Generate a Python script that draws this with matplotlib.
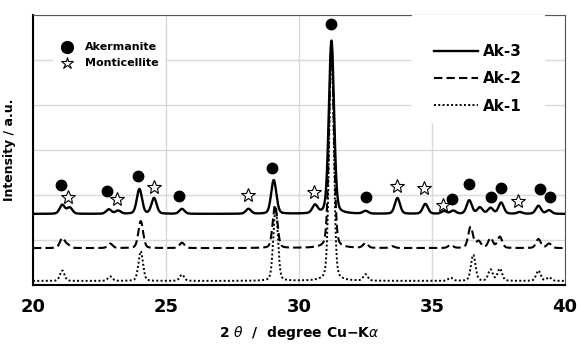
import numpy as np
import matplotlib.pyplot as plt

plt.rcParams['font.family'] = ['DejaVu Sans']

# peak lists: position (2theta), height (a.u. above baseline)
ak3_pos = [21.1, 21.38, 22.85, 23.2, 24.0, 24.55, 25.6, 28.1, 29.05, 30.6, 31.22,
           32.5, 33.7, 34.75, 35.45, 35.8, 36.4, 36.8, 37.2, 37.6, 38.3, 39.0, 39.4]
ak3_h = [0.2, 0.14, 0.1, 0.07, 0.55, 0.35, 0.11, 0.11, 0.75, 0.18, 3.85,
         0.06, 0.35, 0.22, 0.06, 0.07, 0.3, 0.14, 0.13, 0.25, 0.04, 0.18, 0.08]
ak2_pos = [21.1, 21.3, 22.9, 24.05, 25.6, 29.1, 31.22, 32.5, 33.5, 35.7,
           36.45, 36.75, 37.2, 37.55, 39.0, 39.4]
ak2_h = [0.22, 0.07, 0.1, 0.6, 0.12, 0.95, 4.55, 0.11, 0.04, 0.07,
         0.47, 0.15, 0.22, 0.25, 0.2, 0.1]
ak1_pos = [21.1, 22.9, 24.05, 25.6, 29.12, 31.22, 32.5, 35.7, 36.55, 37.2, 37.55, 39.0, 39.4]
ak1_h = [0.23, 0.1, 0.66, 0.14, 1.65, 5.3, 0.14, 0.07, 0.58, 0.25, 0.27, 0.23, 0.08]
baselines = [1.58, 0.82, 0.09]
widths = [0.23, 0.21, 0.2]

# phase markers (2theta, y)
ake_x = [21.05, 22.8, 23.95, 25.5, 29.0, 31.2, 32.5, 35.75, 36.4, 37.2, 37.6, 39.05, 39.45]
ake_y = [2.22, 2.09, 2.42, 1.98, 2.6, 5.8, 1.95, 1.91, 2.24, 1.96, 2.16, 2.13, 1.96]
mon_x = [21.3, 23.15, 24.55, 28.1, 30.55, 33.7, 34.7, 35.4, 38.25]
mon_y = [1.96, 1.91, 2.18, 2.0, 2.07, 2.2, 2.16, 1.78, 1.87]


def pattern(x, pos, h, w, base):
    y = np.full_like(x, base)
    for p, a in zip(pos, h):
        g = np.exp(-4 * np.log(2) * ((x - p) / w) ** 2)
        lo = 1 / (1 + 4 * ((x - p) / w) ** 2)
        y += a * (0.75 * g + 0.25 * lo)
    return y


x = np.linspace(20, 40, 4000)

fig = plt.figure(figsize=(5.77, 3.44), dpi=100)
ax = fig.add_axes([33 / 577, 1 - 285 / 344, 532 / 577, 270 / 344])

ax.plot(x, pattern(x, ak3_pos, ak3_h, widths[0], baselines[0]), color='black', lw=1.7, label='Ak-3')
ax.plot(x, pattern(x, ak2_pos, ak2_h, widths[1], baselines[1]), color='black', lw=1.5,
        ls=(0, (4, 2)), label='Ak-2')
ax.plot(x, pattern(x, ak1_pos, ak1_h, widths[2], baselines[2]), color='black', lw=1.4,
        ls=(0, (1, 1.2)), label='Ak-1')

ax.plot(ake_x, ake_y, 'o', color='black', ms=7.5, ls='none', zorder=5)
ax.plot(mon_x, mon_y, '*', mfc='white', mec='black', mew=0.8, ms=10.5, ls='none', zorder=5)

ax.set_xlim(20, 40)
ax.set_ylim(0, 6)
ax.set_xticks([20, 25, 30, 35, 40])
ax.set_yticks(range(7))
ax.set_yticklabels([])
ax.grid(True, color='#d9d9d9', lw=1)
ax.set_axisbelow(True)
ax.tick_params(length=0, pad=9, labelsize=13)
for t in ax.get_xticklabels():
    t.set_fontweight('bold')
ax.spines['left'].set_linewidth(1.5)
ax.spines['bottom'].set_linewidth(1.5)
ax.spines['top'].set_color('#555555')
ax.spines['right'].set_color('#555555')

ax.set_xlabel('2 $\\it{\\theta}$  /  degree Cu−K$\\it{\\alpha}$', fontsize=10, fontweight='bold', labelpad=6)
ax.set_ylabel('Intensity / a.u.', fontsize=9, fontweight='bold', labelpad=3)

# marker legend (top-left)
ax.add_patch(plt.Rectangle((0.037, 0.78), 0.21, 0.2, transform=ax.transAxes, color='white', zorder=3))
ax.plot([0.064], [0.881], 'o', transform=ax.transAxes, color='black', ms=8.5, zorder=4)
ax.plot([0.064], [0.822], '*', transform=ax.transAxes, mfc='white', mec='black', mew=0.8, ms=9, zorder=4)
ax.text(0.097, 0.881, 'Akermanite', transform=ax.transAxes, fontsize=8, fontweight='bold', va='center', zorder=4)
ax.text(0.097, 0.822, 'Monticellite', transform=ax.transAxes, fontsize=8, fontweight='bold', va='center', zorder=4)

# line legend (top-right)
ax.add_patch(plt.Rectangle((0.712, 0.604), 0.249, 0.396, transform=ax.transAxes, color='white', zorder=3))
leg = ax.legend(loc='upper left', frameon=False, fontsize=11, handlelength=2.9,
                borderpad=0.5, borderaxespad=0, labelspacing=0.8, handletextpad=0.3,
                bbox_to_anchor=(0.739, 0.92))
leg.set_zorder(4)
for t in leg.get_texts():
    t.set_fontweight('bold')

fig.savefig('out.png', dpi=100)
